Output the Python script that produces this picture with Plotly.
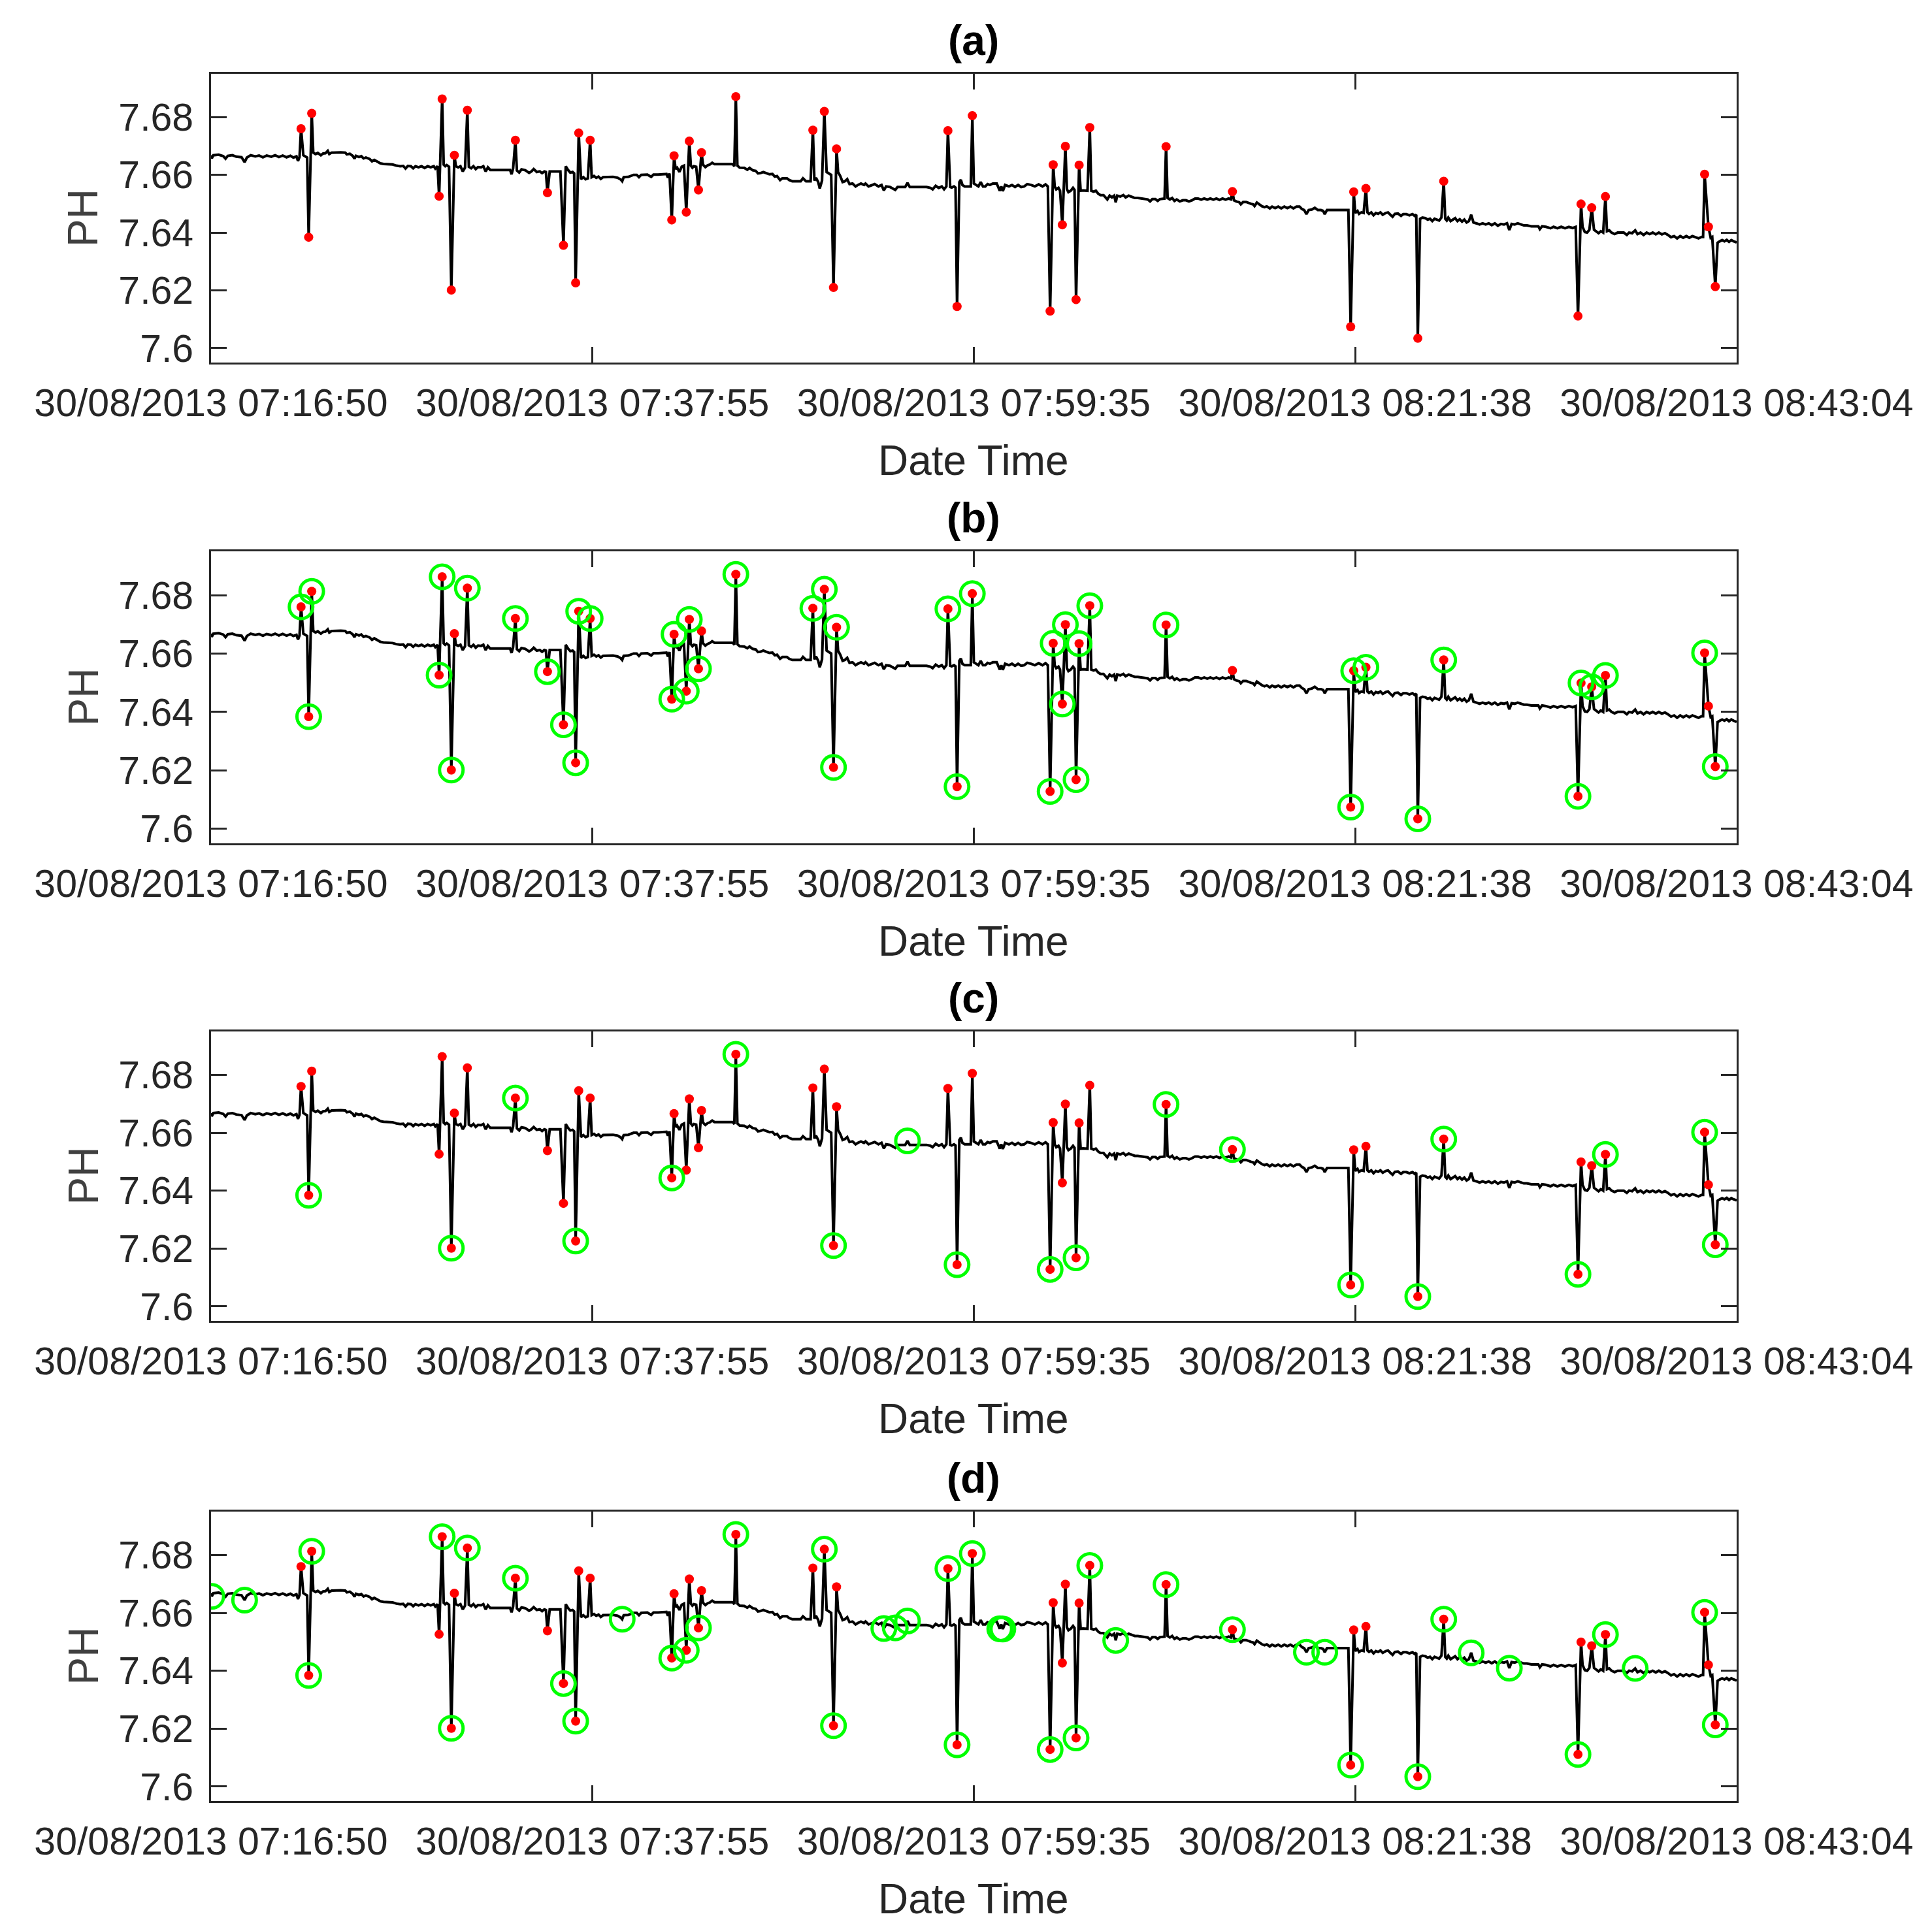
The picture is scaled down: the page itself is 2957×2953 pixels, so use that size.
import plotly.graph_objects as go
from plotly.subplots import make_subplots

# x axis is the sample number, ticks are labelled with the logger time stamps
tick_idx = [0, 500, 1000, 1500, 2000]
tick_time = ['30/08/2013 07:16:50', '30/08/2013 07:37:55', '30/08/2013 07:59:35',
             '30/08/2013 08:21:38', '30/08/2013 08:43:04']
ph_ticks = [7.6, 7.62, 7.64, 7.66, 7.68]
ph_ticktext = ['7.6', '7.62', '7.64', '7.66', '7.68']
panel_names = ['(a)', '(b)', '(c)', '(d)']

# slowly drifting pH signal (sample, pH)
baseline = [
    (0, 7.6668), (1, 7.6657), (3, 7.6668), (10, 7.6670), (16, 7.6665), (19, 7.6656), (22, 7.6666),
    (28, 7.6668), (33, 7.6663), (40, 7.6661), (44, 7.6644), (47, 7.6660), (52, 7.6668), (58, 7.6664),
    (63, 7.6667), (68, 7.6661), (73, 7.6667), (79, 7.6663), (84, 7.6668), (89, 7.6662), (94, 7.6667),
    (99, 7.6661), (104, 7.6666), (108, 7.6660), (112, 7.6664), (114, 7.6648), (116, 7.6662),
    (121, 7.6668), (126, 7.6660), (134, 7.6677), (137, 7.6672), (140, 7.6676), (144, 7.6668),
    (147, 7.6674), (150, 7.6675), (153, 7.6683), (155, 7.6672), (158, 7.6677), (163, 7.6678),
    (170, 7.6678), (176, 7.6677), (178, 7.6671), (182, 7.6673), (186, 7.6665), (188, 7.6656),
    (190, 7.6666), (194, 7.6662), (197, 7.6665), (200, 7.6657), (203, 7.6660), (208, 7.6655),
    (211, 7.6647), (214, 7.6652), (218, 7.6646), (222, 7.6640), (226, 7.6638), (232, 7.6636),
    (238, 7.6636), (243, 7.6632), (248, 7.6630), (252, 7.6631), (255, 7.6622), (258, 7.6631),
    (262, 7.6630), (265, 7.6623), (268, 7.6630), (272, 7.6626), (276, 7.6630), (280, 7.6624),
    (284, 7.6630), (288, 7.6626), (292, 7.6630), (294, 7.6622), (297, 7.6630),
    (305, 7.6635), (307, 7.6630), (309, 7.6634), (312, 7.6628),
    (321, 7.6630), (324, 7.6626), (327, 7.6630), (330, 7.6612), (333, 7.6625),
    (338, 7.6628), (341, 7.6623), (344, 7.6630), (347, 7.6620), (350, 7.6627), (354, 7.6626),
    (357, 7.6630), (360, 7.6612), (363, 7.6626), (366, 7.6617), (370, 7.6617), (378, 7.6617),
    (386, 7.6617), (392, 7.6617), (394, 7.6602), (396, 7.6622),
    (401, 7.6615), (404, 7.6608), (407, 7.6619), (412, 7.6616), (417, 7.6607), (420, 7.6612),
    (423, 7.6620), (427, 7.6610), (431, 7.6612), (434, 7.6606), (437, 7.6612), (439, 7.6610),
    (444, 7.6612), (448, 7.6612), (452, 7.6612), (455, 7.6610), (458, 7.6612),
    (465, 7.6630), (468, 7.6617), (471, 7.6608), (474, 7.6610), (476, 7.6605),
    (485, 7.6585), (488, 7.6592), (491, 7.6585), (494, 7.6588),
    (499, 7.6592), (502, 7.6596), (505, 7.6590), (508, 7.6594), (511, 7.6586), (514, 7.6592),
    (520, 7.6592), (527, 7.6593), (533, 7.6590), (537, 7.6584), (539, 7.6578), (541, 7.6592),
    (547, 7.6593), (554, 7.6600), (558, 7.6600), (561, 7.6592), (564, 7.6600), (567, 7.6600),
    (572, 7.6601), (577, 7.6593), (580, 7.6601), (586, 7.6601), (592, 7.6601), (597, 7.6603),
    (599, 7.6590), (601, 7.6605),
    (609, 7.6620), (611, 7.6625), (614, 7.6610), (617, 7.6628), (620, 7.6632),
    (629, 7.6632), (631, 7.6625), (633, 7.6630), (636, 7.6628),
    (645, 7.6635), (648, 7.6627), (651, 7.6633), (654, 7.6636), (657, 7.6642), (660, 7.6637),
    (666, 7.6637), (672, 7.6637), (678, 7.6637), (684, 7.6637), (686, 7.6630),
    (690, 7.6632), (693, 7.6625), (699, 7.6624), (703, 7.6618), (706, 7.6624), (710, 7.6616),
    (714, 7.6614), (717, 7.6605), (720, 7.6606), (724, 7.6610), (728, 7.6606), (732, 7.6602),
    (736, 7.6603), (739, 7.6594), (742, 7.6596), (746, 7.6582), (749, 7.6588), (755, 7.6588),
    (758, 7.6582), (762, 7.6578), (768, 7.6578), (773, 7.6578), (776, 7.6588), (780, 7.6578),
    (786, 7.6578),
    (791, 7.6580), (793, 7.6590), (796, 7.6575), (798, 7.6553), (801, 7.6580),
    (807, 7.6610), (810, 7.6605), (813, 7.6600),
    (822, 7.6610), (825, 7.6595), (828, 7.6575), (831, 7.6578), (834, 7.6585), (837, 7.6568),
    (841, 7.6570), (845, 7.6560), (848, 7.6565), (852, 7.6570), (856, 7.6565), (858, 7.6570),
    (862, 7.6560), (866, 7.6565), (870, 7.6568), (875, 7.6560), (879, 7.6565), (882, 7.6546),
    (885, 7.6560), (890, 7.6558), (897, 7.6548), (900, 7.6558), (905, 7.6558), (910, 7.6558),
    (913, 7.6572), (916, 7.6558), (922, 7.6558), (930, 7.6558), (938, 7.6558), (943, 7.6555),
    (946, 7.6550), (950, 7.6562), (954, 7.6555), (958, 7.6560), (961, 7.6550), (964, 7.6560),
    (969, 7.6558), (971, 7.6556), (974, 7.6560), (976, 7.6556),
    (981, 7.6575), (983, 7.6583), (985, 7.6565), (988, 7.6560), (991, 7.6560), (994, 7.6562),
    (996, 7.6560),
    (1000, 7.6570), (1003, 7.6565), (1006, 7.6560), (1009, 7.6575), (1012, 7.6560), (1015, 7.6560),
    (1018, 7.6568), (1021, 7.6565), (1025, 7.6570), (1030, 7.6570), (1034, 7.6545), (1036, 7.6560),
    (1038, 7.6544), (1041, 7.6565), (1046, 7.6560), (1050, 7.6565), (1054, 7.6558), (1058, 7.6565),
    (1062, 7.6558), (1066, 7.6560), (1070, 7.6568), (1075, 7.6565), (1080, 7.6560), (1085, 7.6567),
    (1090, 7.6560), (1094, 7.6567), (1097, 7.6560),
    (1106, 7.6560), (1108, 7.6550), (1111, 7.6555), (1113, 7.6545),
    (1122, 7.6550), (1124, 7.6540), (1127, 7.6545), (1130, 7.6555), (1132, 7.6548),
    (1140, 7.6545), (1143, 7.6546), (1146, 7.6545), (1149, 7.6545),
    (1154, 7.6545), (1157, 7.6542), (1160, 7.6545), (1163, 7.6535), (1166, 7.6530), (1170, 7.6530),
    (1173, 7.6522), (1175, 7.6515), (1178, 7.6528), (1181, 7.6522), (1184, 7.6528), (1186, 7.6505),
    (1188, 7.6528), (1192, 7.6525), (1196, 7.6530), (1199, 7.6522), (1203, 7.6528), (1207, 7.6525),
    (1211, 7.6520), (1215, 7.6520), (1220, 7.6518), (1225, 7.6518), (1228, 7.6515), (1231, 7.6508),
    (1234, 7.6516), (1238, 7.6516), (1241, 7.6510), (1244, 7.6516), (1248, 7.6516), (1250, 7.6518),
    (1254, 7.6520), (1257, 7.6515), (1260, 7.6520), (1263, 7.6510), (1266, 7.6515), (1270, 7.6508),
    (1274, 7.6512), (1278, 7.6512), (1282, 7.6508), (1286, 7.6512), (1290, 7.6518), (1294, 7.6518),
    (1298, 7.6514), (1302, 7.6518), (1306, 7.6514), (1310, 7.6518), (1314, 7.6514), (1318, 7.6518),
    (1322, 7.6513), (1326, 7.6518), (1330, 7.6514), (1334, 7.6518), (1337, 7.6515),
    (1341, 7.6512), (1344, 7.6508), (1348, 7.6505), (1350, 7.6498), (1353, 7.6506), (1357, 7.6506),
    (1360, 7.6502), (1363, 7.6500), (1366, 7.6498), (1368, 7.6492), (1371, 7.6504), (1374, 7.6498),
    (1378, 7.6491), (1381, 7.6488), (1384, 7.6491), (1388, 7.6484), (1391, 7.6490), (1395, 7.6485),
    (1399, 7.6490), (1403, 7.6484), (1407, 7.6490), (1411, 7.6485), (1415, 7.6490), (1419, 7.6484),
    (1423, 7.6490), (1427, 7.6490), (1430, 7.6482), (1433, 7.6478), (1436, 7.6464), (1439, 7.6478),
    (1443, 7.6480), (1447, 7.6486), (1451, 7.6478), (1455, 7.6478), (1458, 7.6475), (1460, 7.6464),
    (1463, 7.6478), (1468, 7.6478), (1475, 7.6478), (1482, 7.6478), (1488, 7.6478), (1491, 7.6478),
    (1500, 7.6468), (1503, 7.6475), (1505, 7.6465), (1508, 7.6470), (1511, 7.6468),
    (1516, 7.6470), (1518, 7.6465), (1521, 7.6470), (1524, 7.6460), (1527, 7.6468), (1530, 7.6465),
    (1533, 7.6470), (1536, 7.6462), (1540, 7.6468), (1543, 7.6470), (1546, 7.6462), (1549, 7.6455),
    (1552, 7.6465), (1556, 7.6466), (1560, 7.6458), (1563, 7.6464), (1567, 7.6464), (1571, 7.6460),
    (1575, 7.6464), (1578, 7.6458), (1580, 7.6462),
    (1585, 7.6448), (1588, 7.6452), (1592, 7.6450), (1595, 7.6445), (1598, 7.6448), (1601, 7.6440),
    (1604, 7.6448), (1607, 7.6445), (1610, 7.6442), (1613, 7.6452),
    (1618, 7.6448), (1620, 7.6442), (1622, 7.6452), (1625, 7.6440), (1628, 7.6445), (1631, 7.6450),
    (1634, 7.6440), (1637, 7.6446), (1640, 7.6438), (1643, 7.6445), (1646, 7.6435), (1649, 7.6440),
    (1652, 7.6462), (1655, 7.6435), (1659, 7.6432), (1663, 7.6428), (1667, 7.6432), (1671, 7.6428),
    (1675, 7.6432), (1679, 7.6426), (1683, 7.6432), (1687, 7.6424), (1691, 7.6430), (1695, 7.6428),
    (1699, 7.6432), (1702, 7.6409), (1705, 7.6430), (1709, 7.6428), (1713, 7.6432), (1717, 7.6428),
    (1721, 7.6425), (1725, 7.6425), (1731, 7.6422), (1736, 7.6422), (1740, 7.6422), (1742, 7.6412),
    (1745, 7.6422), (1750, 7.6420), (1756, 7.6415), (1760, 7.6420), (1765, 7.6415), (1770, 7.6420),
    (1775, 7.6415), (1780, 7.6420), (1785, 7.6416), (1789, 7.6420),
    (1798, 7.6420), (1801, 7.6402), (1804, 7.6400), (1807, 7.6410),
    (1813, 7.6410), (1816, 7.6405), (1819, 7.6398), (1822, 7.6405), (1825, 7.6400),
    (1830, 7.6405), (1833, 7.6408), (1836, 7.6400), (1840, 7.6395), (1844, 7.6400), (1848, 7.6400),
    (1852, 7.6400), (1856, 7.6392), (1859, 7.6400), (1863, 7.6398), (1867, 7.6408), (1870, 7.6395),
    (1874, 7.6400), (1878, 7.6392), (1882, 7.6400), (1886, 7.6395), (1890, 7.6400), (1894, 7.6394),
    (1898, 7.6400), (1902, 7.6394), (1906, 7.6398), (1910, 7.6392), (1914, 7.6384), (1918, 7.6388),
    (1922, 7.6380), (1926, 7.6388), (1930, 7.6382), (1934, 7.6388), (1938, 7.6382), (1942, 7.6388),
    (1946, 7.6384), (1950, 7.6380), (1954, 7.6385), (1956, 7.6385),
    (1966, 7.6382), (1968, 7.6385),
    (1975, 7.6365), (1978, 7.6370), (1981, 7.6374), (1984, 7.6370), (1987, 7.6375), (1990, 7.6368),
    (1993, 7.6374), (1996, 7.6370), (2000, 7.6366),
]

# abnormal readings (red dots)
spike_idx = [118, 128, 132, 299, 303, 315, 319, 336, 399, 441, 462, 478, 482, 497,
             604, 607, 623, 627, 639, 643, 688, 789, 804, 816, 820, 966, 978, 998,
             1100, 1104, 1116, 1120, 1134, 1138, 1152, 1252, 1339, 1494, 1498, 1514,
             1582, 1616, 1792, 1796, 1810, 1828, 1958, 1963, 1972]
spike_ph = [7.6760, 7.6384, 7.6813, 7.6526, 7.6863, 7.6201, 7.6668, 7.6824, 7.6720, 7.6538,
            7.6356, 7.6226, 7.6745, 7.6720, 7.6444, 7.6666, 7.6471, 7.6717, 7.6548, 7.6677,
            7.6871, 7.6755, 7.6820, 7.6210, 7.6690, 7.6753, 7.6144, 7.6805, 7.6128, 7.6635,
            7.6427, 7.6699, 7.6168, 7.6634, 7.6764, 7.6698, 7.6542, 7.6074, 7.6541, 7.6553,
            7.6034, 7.6578, 7.6111, 7.6499, 7.6486, 7.6525, 7.6602, 7.6420, 7.6213]

# samples flagged by each method (green circles)
found_b = [118, 128, 132, 299, 303, 315, 336, 399, 441, 462, 478, 482, 497, 604, 607, 623,
           627, 639, 688, 789, 804, 816, 820, 966, 978, 998, 1100, 1104, 1116, 1120, 1134,
           1138, 1152, 1252, 1494, 1498, 1514, 1582, 1616, 1792, 1796, 1810, 1828, 1958, 1972]
found_c = [128, 315, 399, 478, 604, 688, 816, 913, 978, 1100, 1134, 1252, 1339, 1494, 1582,
           1616, 1792, 1828, 1958, 1972]
found_d = [1, 44, 128, 132, 303, 315, 336, 399, 462, 478, 539, 604, 623, 639, 688, 804, 816,
           882, 897, 913, 966, 978, 998, 1034, 1038, 1100, 1134, 1152, 1186, 1252, 1339, 1436,
           1460, 1494, 1582, 1616, 1652, 1702, 1792, 1828, 1867, 1958, 1972]

ph_at = dict(baseline)
ph_at.update(zip(spike_idx, spike_ph))
t = sorted(ph_at)
ph = [ph_at[i] for i in t]

W, H = 2957, 2953
pad = 8  # the page body margin shifts the figure by this much
x_left, x_right = 323 - pad, 2658 - pad
panel_top = [113 - pad, 844 - pad, 1579 - pad, 2314 - pad]
panel_bot = [555 - pad, 1291 - pad, 2022 - pad, 2757 - pad]
font = 'Liberation Sans, Arial, sans-serif'
axis_col = '#262626'

fig = make_subplots(rows=4, cols=1)

for r, found in enumerate([None, found_b, found_c, found_d], start=1):
    fig.add_trace(go.Scatter(x=t, y=ph, mode='lines', line=dict(color='black', width=4),
                             showlegend=False, hoverinfo='skip'), row=r, col=1)
    fig.add_trace(go.Scatter(x=spike_idx, y=spike_ph, mode='markers',
                             marker=dict(color='#ff0000', size=14, line=dict(width=0)),
                             showlegend=False), row=r, col=1)
    if found:
        fig.add_trace(go.Scatter(x=found, y=[ph_at[i] for i in found], mode='markers',
                                 marker=dict(symbol='circle-open', color='#00ff00', size=36,
                                             line=dict(width=5, color='#00ff00')),
                                 showlegend=False), row=r, col=1)

    top, bot = panel_top[r - 1], panel_bot[r - 1]
    fig.update_xaxes(domain=[x_left / W, x_right / W], range=[0, 2000],
                     tickvals=tick_idx, ticktext=tick_time, row=r, col=1)
    fig.update_yaxes(domain=[1 - bot / H, 1 - top / H], range=[7.595, 7.695],
                     tickvals=ph_ticks, ticktext=ph_ticktext, row=r, col=1)

    mid_x = (x_left + x_right) / 2 / W
    fig.add_annotation(text='<b>' + panel_names[r - 1] + '</b>', xref='paper', yref='paper',
                       x=mid_x, y=1 - (top - 51) / H, xanchor='center', yanchor='middle',
                       showarrow=False, font=dict(family=font, size=64, color='black'))
    fig.add_annotation(text='Date Time', xref='paper', yref='paper',
                       x=mid_x, y=1 - (bot + 150) / H, xanchor='center', yanchor='middle',
                       showarrow=False, font=dict(family=font, size=64, color=axis_col))
    fig.add_annotation(text='PH', xref='paper', yref='paper', textangle=-90,
                       x=(127 - pad) / W, y=1 - (top + bot) / 2 / H, xanchor='center',
                       yanchor='middle', showarrow=False,
                       font=dict(family=font, size=64, color='#404040'))

fig.update_xaxes(ticks='inside', ticklen=24, tickwidth=3, tickcolor=axis_col,
                 showline=True, linecolor=axis_col, linewidth=3, mirror='ticks',
                 showgrid=False, zeroline=False, ticklabelstandoff=8, tickangle=0,
                 automargin=False, tickfont=dict(family=font, size=59, color=axis_col))
fig.update_yaxes(ticks='inside', ticklen=24, tickwidth=3, tickcolor=axis_col,
                 showline=True, linecolor=axis_col, linewidth=3, mirror='ticks',
                 showgrid=False, zeroline=False, ticklabelstandoff=12,
                 automargin=False, tickfont=dict(family=font, size=59, color=axis_col))

fig.update_layout(width=W, height=H, margin=dict(l=0, r=0, t=0, b=0),
                  paper_bgcolor='white', plot_bgcolor='white', showlegend=False)

fig.write_html("out.html")
